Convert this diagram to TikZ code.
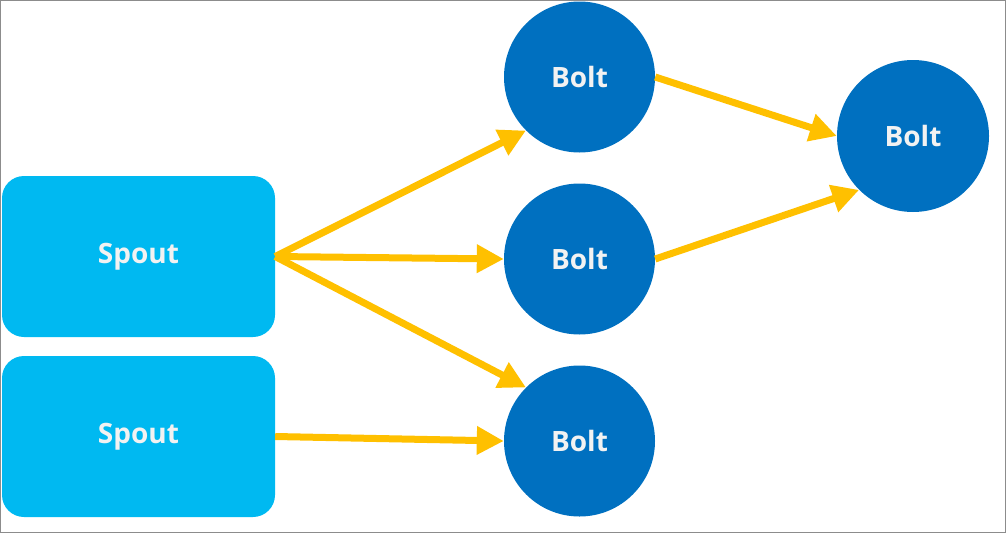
\documentclass[tikz,border=0pt]{standalone}
\usepackage{fontspec}
\setsansfont{Open Sans}
\usetikzlibrary{arrows.meta}

\definecolor{spoutblue}{HTML}{00B9F1}
\definecolor{boltblue}{HTML}{0070C0}
\definecolor{flowgold}{HTML}{FFC000}
\definecolor{labelwhite}{HTML}{F2F2F2}

\tikzset{
spout/.style={rectangle, rounded corners=22pt, fill=spoutblue, minimum width=273pt, minimum height=161pt, inner sep=0pt},
bolt/.style={circle, fill=boltblue, minimum size=151pt, inner sep=0pt},
label/.style={text=labelwhite, font=\sffamily\bfseries\fontsize{28}{33}\selectfont},
flow/.style={draw=flowgold, line width=7pt, -{Triangle[length=27pt,width=27pt]}},
}

\begin{document}
\begin{tikzpicture}[%
x=1pt, y=-1pt,
]
\useasboundingbox (0,0) rectangle (1006,533);
\draw [color=gray!90, line width=1.2pt] (0.6,0.6) rectangle (1005.2,532.2);
%% spouts;
\node [spout] (spout1) at (138.5,256.5) {};
\node [label] at (spout1) {Spout};
\node [spout] (spout2) at (138.5,436.5) {};
\node [label] at (spout2) {Spout};
%% bolts;
\node [bolt] (bolt1) at (579.5,77) {};
\node [label] at (bolt1) {Bolt};
\node [bolt] (bolt2) at (579.5,259) {};
\node [label] at (bolt2) {Bolt};
\node [bolt] (bolt3) at (579.5,441) {};
\node [label] at (bolt3) {Bolt};
\node [bolt, minimum size=152pt] (bolt4) at (913,136) {};
\node [label] at (bolt4) {Bolt};
%% streams;
\draw [flow] (spout1.east) -- (bolt1.south west);
\draw [flow] (spout1.east) -- (bolt2.west);
\draw [flow] (spout1.east) -- (bolt3.north west);
\draw [flow] (spout2.east) -- (bolt3.west);
\draw [flow] (bolt1.east) -- (bolt4.west);
\draw [flow] (bolt2.east) -- (bolt4.south west);
\end{tikzpicture}
\end{document}
